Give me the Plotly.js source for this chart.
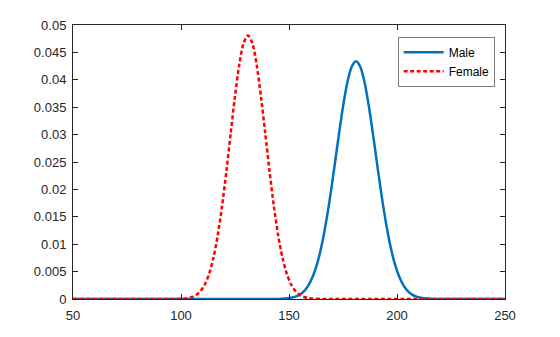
<!DOCTYPE html>
<html><head><meta charset="utf-8">
<script src="https://cdn.plot.ly/plotly-3.0.1.min.js"></script>
<style>html,body{margin:0;padding:0;background:#fff;}#chart{width:560px;height:337px;}</style>
</head><body><div id="chart"></div>
<script>
const maleX = [50, 141, 145, 148, 151, 153, 155, 157, 159, 161, 163, 165, 167, 169, 171, 173, 175, 177, 179, 181, 183, 185, 187, 189, 191, 193, 195, 197, 199, 201, 203, 205, 207, 209, 211, 214, 217, 221, 250];
const maleY = [0, 0, 0.00002, 0.00007, 0.000213, 0.000423, 0.0008, 0.00144, 0.00249, 0.00409, 0.0064, 0.00957, 0.01364, 0.01854, 0.02404, 0.02974, 0.03508, 0.03949, 0.04238, 0.0434, 0.04238, 0.03949, 0.03508, 0.02974, 0.02404, 0.01854, 0.01364, 0.00957, 0.0064, 0.00409, 0.00249, 0.00144, 0.0008, 0.000423, 0.000213, 0.00007, 0.00002, 0, 0];
const femaleX = [50, 91, 97, 101, 103, 105, 107, 109, 111, 113, 115, 117, 119, 121, 123, 125, 127, 129, 131, 133, 135, 137, 139, 141, 143, 145, 147, 149, 151, 153, 155, 157, 159, 161, 165, 171, 250];
const femaleY = [0, 0, 0.00001, 0.00007, 0.000163, 0.000356, 0.000735, 0.00143, 0.00264, 0.00458, 0.0075, 0.0116, 0.01692, 0.02328, 0.03023, 0.03704, 0.04283, 0.04672, 0.0481, 0.04672, 0.04283, 0.03704, 0.03023, 0.02328, 0.01692, 0.0116, 0.0075, 0.00458, 0.00264, 0.00143, 0.000735, 0.000356, 0.000163, 0.00007, 0.00001, 0, 0];
const xTicks = [50, 100, 150, 200, 250];
const yTicks = [0, 0.005, 0.01, 0.015, 0.02, 0.025, 0.03, 0.035, 0.04, 0.045, 0.05];
const yTickText = ['0', '0.005', '0.01', '0.015', '0.02', '0.025', '0.03', '0.035', '0.04', '0.045', '0.05'];

const font = {family: 'Liberation Sans, Arial, Helvetica, sans-serif', size: 13, color: '#262626'};
const axisCommon = {
  showgrid: false, zeroline: false, showline: true, linecolor: '#262626', linewidth: 1,
  mirror: 'allticks', ticks: 'inside', ticklen: 5, tickcolor: '#262626', tickwidth: 1,
  tickfont: font, fixedrange: true
};
const data = [
  {x: maleX, y: maleY, name: 'Male', type: 'scatter', mode: 'lines',
   line: {color: '#0072BD', width: 2.5, shape: 'spline', smoothing: 0.8}},
  {x: femaleX, y: femaleY, name: 'Female', type: 'scatter', mode: 'lines',
   line: {color: '#FF0000', width: 2.5, dash: '4px,2.5px', shape: 'spline', smoothing: 0.8}}
];
const layout = {
  width: 560, height: 337,
  margin: {l: 73, r: 55, t: 25, b: 38},
  paper_bgcolor: '#ffffff', plot_bgcolor: '#ffffff',
  font: font,
  showlegend: true,
  legend: {x: 0.977, y: 0.956, xanchor: 'right', yanchor: 'top',
           bgcolor: '#ffffff', bordercolor: '#262626', borderwidth: 0.6,
           font: {family: font.family, size: 12, color: '#000'},
           tracegroupgap: 0, itemwidth: 40},
  xaxis: Object.assign({}, axisCommon, {range: [50, 250], tickvals: xTicks, ticktext: xTicks.map(String), ticklabelstandoff: 4}),
  yaxis: Object.assign({}, axisCommon, {range: [0, 0.05], tickvals: yTicks, ticktext: yTickText, ticklabelstandoff: 3})
};
Plotly.newPlot('chart', data, layout, {staticPlot: true, displayModeBar: false});
</script></body></html>
